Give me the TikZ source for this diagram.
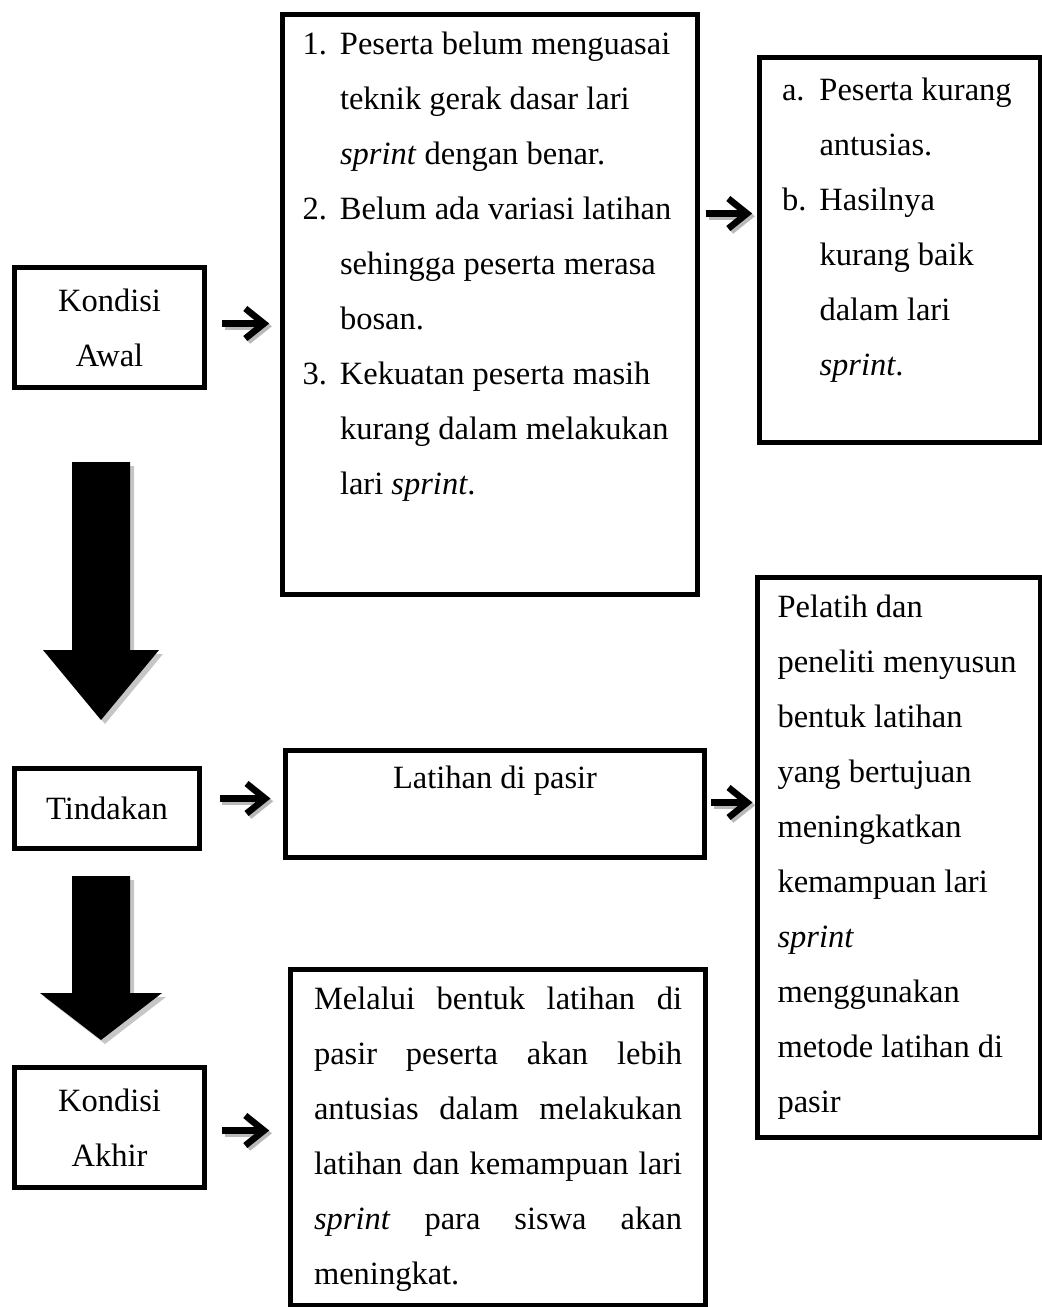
\documentclass[tikz,border=0pt]{standalone}
\usepackage{fontspec}
\setmainfont{Liberation Serif}
\usetikzlibrary{arrows.meta, positioning, calc}
\newcommand{\listentry}[2]{\par\hangindent=15pt\hangafter=1\noindent\makebox[15pt][l]{#1}#2\par}
\hbadness=10000

\begin{document}
\begin{tikzpicture}[
    x=0.4pt, y=-0.4pt,
    font=\fontsize{13}{22}\selectfont,
    box/.style={rectangle, draw, line width=2pt, anchor=north west},
    namebox/.style={box, align=center},
    arrow/.style={line width=2.6pt, -{Straight Barb[length=7.5pt, width=12pt]},
        preaction={draw=gray!55, line width=2.6pt, -{Straight Barb[length=7.5pt, width=12pt]},
            transform canvas={xshift=1.1pt, yshift=-1.1pt}}}
]
\useasboundingbox (0,0) rectangle (1041,1307);

% left column
\node[namebox, minimum width=76pt, minimum height=48pt] (awal) at (12,265) {Kondisi\\Awal};
\node[namebox, minimum width=74pt, minimum height=32pt] (tindakan) at (12,766) {Tindakan};
\node[namebox, minimum width=76pt, minimum height=48pt] (akhir) at (12,1065) {Kondisi\\Akhir};

% middle column
\node[box, inner xsep=8pt, inner ysep=7pt] (list1) at (280,12) {\parbox[c][218pt][t]{150pt}{%
    \listentry{1.}{Peserta belum menguasai\newline teknik gerak dasar lari\newline \textit{sprint} dengan benar.}
    \listentry{2.}{Belum ada variasi latihan\newline sehingga peserta merasa\newline bosan.}
    \listentry{3.}{Kekuatan peserta masih\newline kurang dalam melakukan\newline lari \textit{sprint}.}}};
\node[box, inner xsep=8pt, inner ysep=6pt] (latihan) at (283,748) {\parbox[c][30.8pt][t]{151.6pt}{\centering Latihan di pasir}};
\node[box, inner xsep=9.4pt, inner ysep=7pt] (melalui) at (288,967) {\parbox[c][120.4pt][t]{147.2pt}{%
    Melalui bentuk latihan di\linebreak pasir peserta akan lebih\linebreak antusias dalam melakukan\linebreak
    latihan dan kemampuan lari\linebreak \textit{sprint} para siswa akan\linebreak meningkat.}};

% right column
\node[box, inner xsep=9pt, inner ysep=8pt] (ab) at (757,55) {\parbox[c][138pt][t]{94.4pt}{%
    \listentry{a.}{Peserta kurang\newline antusias.}
    \listentry{b.}{Hasilnya\newline kurang baik\newline dalam lari\newline \textit{sprint}.}}};
\node[box, inner xsep=8pt, inner ysep=7pt] (pelatih) at (755,575) {\parbox[c][210pt][t]{97.2pt}{\raggedright
    Pelatih dan\\peneliti menyusun\\bentuk latihan\\yang bertujuan\\meningkatkan\\kemampuan lari\\
    \textit{sprint}\\menggunakan\\metode latihan di\\pasir}};

% small arrows
\draw[arrow] ($(awal.east)+(6pt,1.6pt)$) -- ($(awal.east -| list1.west)+(-4.3pt,1.6pt)$);
\draw[arrow] ($(list1.east |- ab.west)+(2.3pt,14.6pt)$) -- ($(ab.west)+(-1.9pt,14.6pt)$);
\draw[arrow] ($(tindakan.east)+(7pt,4pt)$) -- ($(tindakan.east -| latihan.west)+(-5pt,4pt)$);
\draw[arrow] ($(latihan.east)+(1.6pt,0.6pt)$) -- ($(latihan.east -| pelatih.west)+(-1pt,0.6pt)$);
\draw[arrow] ($(akhir.east)+(6pt,-1.2pt)$) -- ($(akhir.east -| melalui.west)+(-7.5pt,-1.2pt)$);

% big down arrows
\foreach \ytop/\ybase/\ytip/\half in {462/650/720/58, 876/993/1040/61} {
    \fill[gray!45, shift={(4,4)}] (72,\ytop) -- (130,\ytop) -- (130,\ybase) -- ({101+\half},\ybase)
        -- (101,\ytip) -- ({101-\half},\ybase) -- (72,\ybase) -- cycle;
    \fill (72,\ytop) -- (130,\ytop) -- (130,\ybase) -- ({101+\half},\ybase)
        -- (101,\ytip) -- ({101-\half},\ybase) -- (72,\ybase) -- cycle;
}
\end{tikzpicture}
\end{document}
